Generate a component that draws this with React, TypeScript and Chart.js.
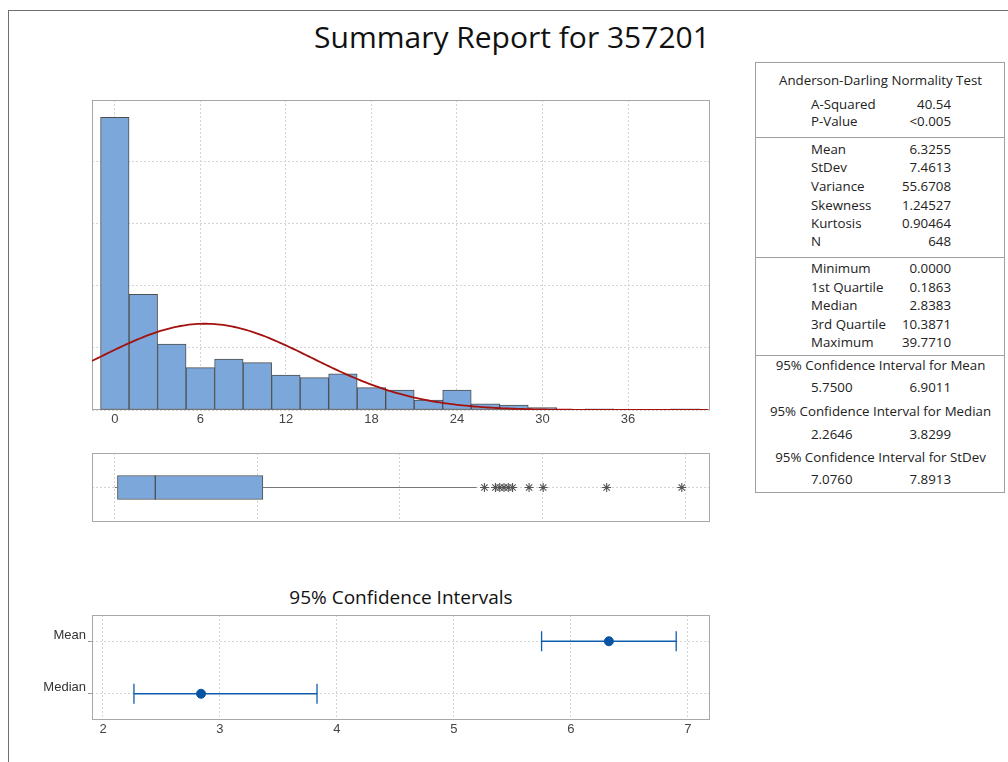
import React, { useEffect, useRef } from "react";
import { Chart, registerables } from "chart.js";
Chart.register(...registerables);

// ---------- data ----------
const TITLE = "Summary Report for 357201";
const CI_TITLE = "95% Confidence Intervals";

const BIN_CENTERS = [0, 2, 4, 6, 8, 10, 12, 14, 16, 18, 20, 22, 24, 26, 28, 30, 32, 34, 36, 38, 40];
const BIN_COUNTS = [235, 93, 53, 34, 41, 38, 28, 26, 29, 18, 16, 8, 16, 5, 4, 2, 0, 1, 0, 0, 1];
const HIST_X_TICKS = [0, 6, 12, 18, 24, 30, 36];
const HIST_Y_GRID = [0, 50, 100, 150, 200];

const MEAN = 6.3255;
const STDEV = 7.4613;
const N = 648;
const BIN_WIDTH = 2;

const WHISKER_LOW = 0;
const Q1 = 0.1863;
const MEDIAN = 2.8383;
const Q3 = 10.3871;
const WHISKER_HIGH = 25.37;
const OUTLIERS = [25.93, 26.7, 27.0, 27.3, 27.6, 27.9, 29.06, 30.05, 34.5, 39.771];
const BOX_X_GRID = [0, 10, 20, 30, 40];

const CI_LABELS = ["Median", "Mean"];
const CI_ESTIMATES = [2.8383, 6.3255];
const CI_LOWER = [2.2646, 5.75];
const CI_UPPER = [3.8299, 6.9011];
const CI_X_TICKS = [2, 3, 4, 5, 6, 7];

const AD_ROWS: [string, string][] = [
  ["A-Squared", "40.54"],
  ["P-Value", "<0.005"],
];
const MOMENT_ROWS: [string, string][] = [
  ["Mean", "6.3255"],
  ["StDev", "7.4613"],
  ["Variance", "55.6708"],
  ["Skewness", "1.24527"],
  ["Kurtosis", "0.90464"],
  ["N", "648"],
];
const QUANTILE_ROWS: [string, string][] = [
  ["Minimum", "0.0000"],
  ["1st Quartile", "0.1863"],
  ["Median", "2.8383"],
  ["3rd Quartile", "10.3871"],
  ["Maximum", "39.7710"],
];
const CI_TABLE: [string, string, string][] = [
  ["95% Confidence Interval for Mean", "5.7500", "6.9011"],
  ["95% Confidence Interval for Median", "2.2646", "3.8299"],
  ["95% Confidence Interval for StDev", "7.0760", "7.8913"],
];

// ---------- styling ----------
const AXIS_FONT = "'Liberation Sans', Arial, sans-serif";
const TEXT_FONT = "'Open Sans', 'Liberation Sans', sans-serif";
const GRID_COLOR = "#d4d4d4";
const GRID_DASH = [2, 2];
const FRAME_COLOR = "#a8a8a8";
const BAR_FILL = "#7ba7da";
const BAR_EDGE = "#4f4f4f";
const CI_BLUE = "#0e5cae";

const plotFrame = {
  id: "plotFrame",
  beforeDatasetsDraw(chart: any) {
    const { ctx, chartArea: a } = chart;
    ctx.save();
    ctx.strokeStyle = FRAME_COLOR;
    ctx.lineWidth = 1;
    ctx.strokeRect(Math.round(a.left) + 0.5, Math.round(a.top) + 0.5, Math.round(a.width) - 1, Math.round(a.height) - 1);
    ctx.restore();
  },
};

const setTicks = (vals: number[]) => (s: any) => {
  s.ticks = vals.map((v) => ({ value: v }));
};

const baseOpts = {
  animation: false as const,
  responsive: false,
  events: [] as any[],
  plugins: { legend: { display: false }, tooltip: { enabled: false }, title: { display: false } },
};

function normalCurve() {
  const pts: { x: number; y: number }[] = [];
  for (let x = -1.6; x <= 41.75; x += 0.2) {
    const z = (x - MEAN) / STDEV;
    const y = (N * BIN_WIDTH * Math.exp(-0.5 * z * z)) / (STDEV * Math.sqrt(2 * Math.PI));
    pts.push({ x, y });
  }
  return pts;
}

export default function App() {
  const histRef = useRef<HTMLCanvasElement>(null);
  const boxRef = useRef<HTMLCanvasElement>(null);
  const ciRef = useRef<HTMLCanvasElement>(null);

  useEffect(() => {
    const charts: Chart[] = [];

    // Histogram
    charts.push(
      new Chart(histRef.current!, {
        type: "bar",
        data: {
          datasets: [
            {
              type: "line",
              data: normalCurve(),
              borderColor: "#a3120f",
              borderWidth: 1.8,
              pointRadius: 0,
              tension: 0,
              order: 0,
            } as any,
            {
              type: "bar",
              data: BIN_CENTERS.map((c, i) => ({ x: c, y: BIN_COUNTS[i] })),
              backgroundColor: BAR_FILL,
              borderColor: BAR_EDGE,
              borderWidth: 1,
              borderSkipped: false,
              barPercentage: 1,
              categoryPercentage: 1,
              order: 1,
            } as any,
          ],
        },
        options: {
          ...baseOpts,
          layout: { autoPadding: false, padding: { left: 32, right: 20, top: 10, bottom: 0 } },
          scales: {
            x: {
              type: "linear",
              min: -1.6,
              max: 41.75,
              offset: false,
              afterBuildTicks: setTicks(HIST_X_TICKS),
              afterFit: (s: any) => { s.height = 30; },
              grid: { color: GRID_COLOR, drawTicks: false, offset: false },
              border: { display: false, dash: GRID_DASH },
              ticks: { color: "#444", font: { family: AXIS_FONT, size: 13 }, padding: 2 },
            },
            y: {
              type: "linear",
              min: 0,
              max: 249,
              offset: false,
              afterBuildTicks: setTicks(HIST_Y_GRID),
              afterFit: (s: any) => { s.width = 0; },
              grid: { color: GRID_COLOR, drawTicks: false },
              border: { display: false, dash: GRID_DASH },
              ticks: { display: false },
            },
          } as any,
        },
        plugins: [plotFrame],
      })
    );

    // Boxplot
    charts.push(
      new Chart(boxRef.current!, {
        type: "bar",
        data: {
          datasets: [
            {
              type: "scatter",
              data: OUTLIERS.map((v) => ({ x: v, y: 0 })),
              pointStyle: "star",
              pointRadius: 4.5,
              borderColor: "#555",
              backgroundColor: "#555",
              borderWidth: 1.1,
              order: 0,
            } as any,
            {
              type: "scatter",
              data: [{ x: MEDIAN, y: 0 }],
              pointStyle: "line",
              rotation: 90,
              pointRadius: 12,
              borderColor: "#444",
              borderWidth: 1.2,
              order: 0,
            } as any,
            {
              type: "line",
              data: [{ x: WHISKER_LOW, y: 0 }, { x: Q1, y: 0 }],
              borderColor: "#777",
              borderWidth: 1,
              pointRadius: 0,
              order: 1,
            } as any,
            {
              type: "line",
              data: [{ x: Q3, y: 0 }, { x: WHISKER_HIGH, y: 0 }],
              borderColor: "#777",
              borderWidth: 1,
              pointRadius: 0,
              order: 1,
            } as any,
            {
              type: "bar",
              indexAxis: "y",
              data: [{ x: [Q1, Q3], y: 0 }],
              backgroundColor: BAR_FILL,
              borderColor: BAR_EDGE,
              borderWidth: 1,
              borderSkipped: false,
              barThickness: 24,
              order: 2,
            } as any,
          ],
        },
        options: {
          ...baseOpts,
          layout: { autoPadding: false, padding: { left: 32, right: 20, top: 10, bottom: 10 } },
          scales: {
            x: {
              type: "linear",
              min: -1.6,
              max: 41.75,
              offset: false,
              afterBuildTicks: setTicks(BOX_X_GRID),
              afterFit: (s: any) => { s.height = 0; },
              grid: { color: GRID_COLOR, drawTicks: false, offset: false },
              border: { display: false, dash: GRID_DASH },
              ticks: { display: false },
            },
            y: {
              type: "linear",
              min: -1,
              max: 1,
              offset: false,
              afterBuildTicks: setTicks([0]),
              afterFit: (s: any) => { s.width = 0; },
              grid: { color: GRID_COLOR, drawTicks: false, offset: false },
              border: { display: false, dash: GRID_DASH },
              ticks: { display: false },
            },
          } as any,
        },
        plugins: [plotFrame],
      })
    );

    // Confidence intervals
    const ciDatasets: any[] = [];
    CI_LABELS.forEach((_, i) => {
      ciDatasets.push({
        type: "line",
        data: [{ x: CI_LOWER[i], y: i }, { x: CI_UPPER[i], y: i }],
        borderColor: CI_BLUE,
        borderWidth: 1.3,
        pointStyle: "line",
        pointRotation: 90,
        pointRadius: 10,
        pointBorderColor: CI_BLUE,
        pointBorderWidth: 1.3,
        order: 1,
      });
    });
    ciDatasets.push({
      type: "scatter",
      data: CI_ESTIMATES.map((v, i) => ({ x: v, y: i })),
      pointStyle: "circle",
      pointRadius: 4.5,
      backgroundColor: "#0753a4",
      borderColor: "#0753a4",
      order: 0,
    });
    charts.push(
      new Chart(ciRef.current!, {
        type: "scatter",
        data: { datasets: ciDatasets },
        options: {
          ...baseOpts,
          layout: { autoPadding: false, padding: { left: 0, right: 20, top: 10, bottom: 0 } },
          scales: {
            x: {
              type: "linear",
              min: 1.906,
              max: 7.19,
              afterBuildTicks: setTicks(CI_X_TICKS),
              afterFit: (s: any) => { s.height = 30; },
              grid: { color: GRID_COLOR, drawTicks: false },
              border: { display: false, dash: GRID_DASH },
              ticks: { color: "#444", font: { family: AXIS_FONT, size: 13 }, padding: 2 },
            },
            y: {
              type: "linear",
              min: -0.5,
              max: 1.5,
              afterBuildTicks: setTicks([0, 1]),
              afterFit: (s: any) => { s.width = 92; },
              grid: { color: GRID_COLOR, drawTicks: true, tickLength: 4, tickColor: "#999" },
              border: { display: false, dash: GRID_DASH },
              ticks: {
                color: "#333",
                font: { family: AXIS_FONT, size: 13 },
                padding: 2,
                labelOffset: -6,
                callback: (v: any) => CI_LABELS[v as number],
              },
            },
          } as any,
        },
        plugins: [plotFrame],
      })
    );

    return () => charts.forEach((c) => c.destroy());
  }, []);

  const abs = (style: React.CSSProperties): React.CSSProperties => ({ position: "absolute", ...style });
  const rowH = 16;
  const textStyle: React.CSSProperties = { fontFamily: TEXT_FONT, fontSize: 13.3, color: "#222", lineHeight: `${rowH}px`, whiteSpace: "nowrap" };

  const pairRows = (rows: [string, string][], ys: number[]) =>
    rows.map(([l, v], i) => (
      <React.Fragment key={l + i}>
        <div style={abs({ ...textStyle, left: 811, top: ys[i] - rowH / 2 })}>{l}</div>
        <div style={abs({ ...textStyle, left: 851, width: 100, textAlign: "right", top: ys[i] - rowH / 2 })}>{v}</div>
      </React.Fragment>
    ));

  const centered = (t: string, y: number) => (
    <div key={t} style={abs({ ...textStyle, left: 756, width: 249, textAlign: "center", top: y - rowH / 2 })}>{t}</div>
  );

  const ciHeaderY = [365, 411, 457];
  const ciValY = [387, 434, 479];

  return (
    <div style={abs({ left: 0, top: 0, width: 1008, height: 762, overflow: "hidden", background: "#fff" })}>
      <div style={abs({ left: 8, top: 10, width: 1100, height: 800, borderLeft: "1px solid #6e6e6e", borderTop: "1px solid #6e6e6e" })} />
      <div style={abs({ left: 8, top: 16, width: 1008, textAlign: "center", fontFamily: TEXT_FONT, fontSize: 30, lineHeight: "42px", color: "#111" })}>{TITLE}</div>

      <canvas ref={histRef} width={670} height={350} style={abs({ left: 60, top: 90, width: 670, height: 350 })} />
      <canvas ref={boxRef} width={670} height={89} style={abs({ left: 60, top: 443, width: 670, height: 89 })} />

      <div style={abs({ left: 92, top: 583, width: 618, textAlign: "center", fontFamily: TEXT_FONT, fontSize: 19, lineHeight: "28px", color: "#111" })}>{CI_TITLE}</div>
      <canvas ref={ciRef} width={730} height={145} style={abs({ left: 0, top: 605, width: 730, height: 145 })} />

      <div style={abs({ left: 755, top: 62, width: 250, height: 431, border: "1px solid #a0a0a0", boxSizing: "border-box" })} />
      <div style={abs({ left: 755, top: 137, width: 250, height: 1, background: "#a0a0a0" })} />
      <div style={abs({ left: 755, top: 257, width: 250, height: 1, background: "#a0a0a0" })} />
      <div style={abs({ left: 755, top: 355, width: 250, height: 1, background: "#a0a0a0" })} />

      {centered("Anderson-Darling Normality Test", 80)}
      {pairRows(AD_ROWS, [104, 121])}
      {pairRows(MOMENT_ROWS, [149, 167, 186, 205, 223, 241])}
      {pairRows(QUANTILE_ROWS, [268, 287, 305, 324, 342])}
      {CI_TABLE.map(([h, lo, hi], i) => (
        <React.Fragment key={h}>
          {centered(h, ciHeaderY[i])}
          <div style={abs({ ...textStyle, left: 811, top: ciValY[i] - rowH / 2 })}>{lo}</div>
          <div style={abs({ ...textStyle, left: 851, width: 100, textAlign: "right", top: ciValY[i] - rowH / 2 })}>{hi}</div>
        </React.Fragment>
      ))}
    </div>
  );
}
